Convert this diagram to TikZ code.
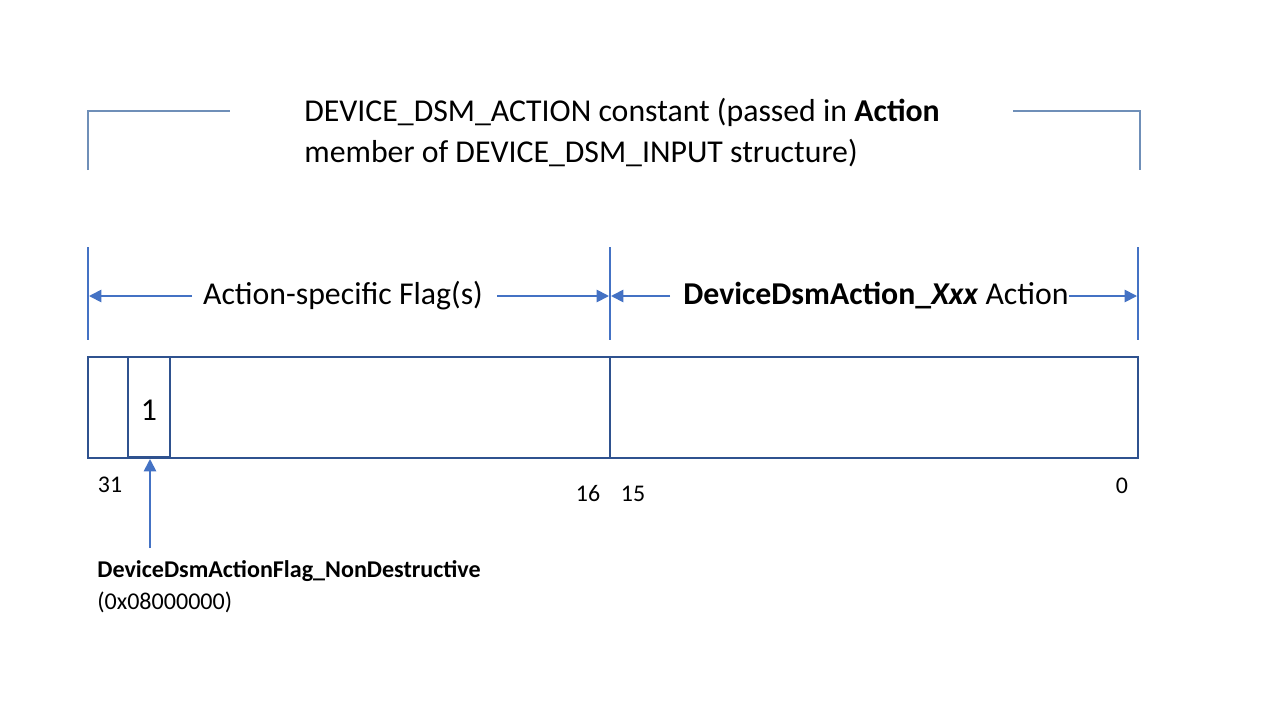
\documentclass[tikz,border=0pt]{standalone}
\usepackage{fontspec}
\setmainfont{Carlito}
\usetikzlibrary{arrows.meta,positioning}
\definecolor{dsmLine}{HTML}{4472C4}
\definecolor{dsmBox}{HTML}{2F528F}
\definecolor{dsmBracket}{HTML}{6F8FB8}

\begin{document}
\begin{tikzpicture}[x=0.02cm, y=-0.02cm,
  tick/.style={dsmLine, line width=1.3pt},
  span/.style={dsmLine, line width=1pt, -{Triangle[length=7pt,width=7pt]}},
  bitnum/.style={font=\fontsize{13.6}{16}\selectfont, inner sep=0pt}]
  \useasboundingbox (0,0) rectangle (1280,720);
  % top bracket
  \draw[dsmBracket, line width=0.6pt] (88,170) -- (88,111) -- (230,111);
  \draw[dsmBracket, line width=0.6pt] (1013,111) -- (1140,111) -- (1140,170);
  \node[anchor=north west, inner sep=0pt, align=left,
        font=\fontsize{18.1}{23.3}\selectfont] (title) at (304,98)
    {DEVICE\_DSM\_ACTION constant (passed in \textbf{Action}\\
     member of DEVICE\_DSM\_INPUT structure)};
  % field ticks
  \draw[tick] (88,247) -- (88,340);
  \draw[tick] (610,247) -- (610,340);
  \draw[tick] (1138,247) -- (1138,340);
  \coordinate (leftEnd) at (89,296);
  \coordinate (midL) at (609,296);
  \coordinate (midR) at (611,296);
  \coordinate (rightEnd) at (1137,296);
  \node[font=\fontsize{18.1}{22}\selectfont, inner sep=0pt] (flags) at (343,296)
    {Action-specific Flag(s)};
  \node[font=\fontsize{18.1}{22}\selectfont, inner sep=0pt] (action) at (876,296)
    {\textbf{DeviceDsmAction\_\textit{Xxx}} Action};
  \draw[span] (192,296) -- (leftEnd);
  \draw[span] (497,296) -- (midL);
  \draw[span] (670,296) -- (midR);
  \draw[span] (action.east) -- (rightEnd);
  % register
  \draw[dsmBox, line width=1.3pt] (88,357) rectangle (1138,458);
  \draw[dsmBox, line width=1.3pt] (610,357) -- (610,458);
  \draw[dsmBox, line width=0.6pt] (128,357) rectangle (170,457);
  \node[font=\fontsize{18.1}{22}\selectfont, inner sep=0pt] (bit) at (149,410) {1};
  % bit numbers
  \node[bitnum] (b31) at (110,485) {31};
  \node[bitnum] (b16) at (588,494) {16};
  \node[bitnum] (b15) at (633,494) {15};
  \node[bitnum] (b0) at (1122,486) {0};
  % flag callout
  \coordinate (flagTip) at (150,459);
  \coordinate (flagFoot) at (150,548);
  \draw[span] (flagFoot) -- (flagTip);
  \node[anchor=west, inner sep=0pt, align=left,
        font=\fontsize{13.7}{18.2}\selectfont] (flag) at (97,587)
    {\textbf{DeviceDsmActionFlag\_NonDestructive}\\(0x08000000)};
\end{tikzpicture}
\end{document}
